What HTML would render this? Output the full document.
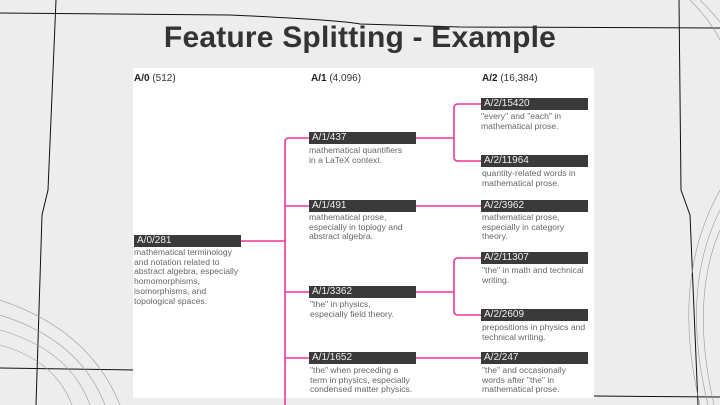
<!DOCTYPE html>
<html><head><meta charset="utf-8"><style>
body{margin:0;width:720px;height:405px;overflow:hidden;background:#ededed;font-family:"Liberation Sans",sans-serif;position:relative}
.t{position:absolute;left:0;width:720px;top:21px;text-align:center;font-size:30px;font-weight:bold;color:#333;letter-spacing:0.2px}
.panel{position:absolute;left:133px;top:68px;width:461px;height:330px;background:#fff}
.h{position:absolute;font-size:10px;color:#333}
.h b{color:#222}
.b{position:absolute;width:107px;height:12px;background:#3a3a3a;color:#eee;font-size:10px;line-height:12px;padding-left:3px;box-sizing:border-box}
.d{position:absolute;font-size:8.6px;line-height:9.7px;color:#666;width:130px;white-space:nowrap}
svg{position:absolute;left:0;top:0}
</style></head><body>
<svg width="720" height="405">
<g stroke="#111" fill="none" stroke-width="1">
<path d="M0 13 L230 15 Q340 20 360 24 L460 27 L720 28"/>
<path d="M56 0 L48 190 L42 215 L36 405"/>
<path d="M679 0 L681 190 L690 215 L698 405"/>
<path d="M0 368 L133 370"/>
<path d="M594 396 L720 397"/>
</g>
<g stroke="#999" fill="none" stroke-width="0.6">
<path d="M0 300 Q90 330 120 405"/><path d="M0 315 Q80 340 105 405"/><path d="M0 330 Q70 350 90 405"/><path d="M0 345 Q55 360 72 405"/>
<path d="M720 190 Q670 280 700 405"/><path d="M720 210 Q680 290 708 405"/><path d="M720 230 Q690 300 714 405"/>
<path d="M690 0 Q710 20 720 40"/><path d="M700 0 Q712 12 720 22"/>
</g>
</svg>
<div class="t">Feature Splitting - Example</div>
<div class="panel"></div>
<svg width="720" height="405">
<g stroke="#f0359a" stroke-width="1.6" fill="none">
<path d="M240 241 L285 241"/>
<path d="M309 138 L289 138 Q285 138 285 142 L285 405"/>
<path d="M285 206 L309 206"/><path d="M285 292 L309 292"/><path d="M285 358 L309 358"/>
<path d="M416 138 L454 138"/><path d="M481 104 L458 104 Q454 104 454 108 L454 157 Q454 161 458 161 L481 161"/>
<path d="M416 206 L481 206"/>
<path d="M416 292 L454 292"/><path d="M481 258 L458 258 Q454 258 454 262 L454 311 Q454 315 458 315 L481 315"/>
<path d="M416 358 L481 358"/>
</g></svg>
<div class="h" style="left:134px;top:73px"><b>A/0</b> (512)</div>
<div class="h" style="left:311px;top:73px"><b>A/1</b> (4,096)</div>
<div class="h" style="left:482px;top:73px"><b>A/2</b> (16,384)</div>

<div class="b" style="left:134px;top:235px">A/0/281</div>
<div class="d" style="left:134px;top:248px">mathematical terminology<br>and notation related to<br>abstract algebra, especially<br>homomorphisms,<br>isomorphisms, and<br>topological spaces.</div>

<div class="b" style="left:309px;top:132px">A/1/437</div>
<div class="d" style="left:309px;top:146px">mathematical quantifiers<br>in a LaTeX context.</div>
<div class="b" style="left:309px;top:200px">A/1/491</div>
<div class="d" style="left:309px;top:213px">mathematical prose,<br>especially in toplogy and<br>abstract algebra.</div>
<div class="b" style="left:309px;top:286px">A/1/3362</div>
<div class="d" style="left:310px;top:300px">"the" in physics,<br>especially field theory.</div>
<div class="b" style="left:309px;top:352px">A/1/1652</div>
<div class="d" style="left:310px;top:366px">"the" when preceding a<br>term in physics, especially<br>condensed matter physics.</div>

<div class="b" style="left:481px;top:98px">A/2/15420</div>
<div class="d" style="left:481px;top:112px">"every" and "each" in<br>mathematical prose.</div>
<div class="b" style="left:481px;top:155px">A/2/11964</div>
<div class="d" style="left:482px;top:169px">quantity-related words in<br>mathematical prose.</div>
<div class="b" style="left:481px;top:200px">A/2/3962</div>
<div class="d" style="left:482px;top:213px">mathematical prose,<br>especially in category<br>theory.</div>
<div class="b" style="left:481px;top:252px">A/2/11307</div>
<div class="d" style="left:482px;top:266px">"the" in math and technical<br>writing.</div>
<div class="b" style="left:481px;top:309px">A/2/2609</div>
<div class="d" style="left:482px;top:323px">prepositions in physics and<br>technical writing.</div>
<div class="b" style="left:481px;top:352px">A/2/247</div>
<div class="d" style="left:482px;top:366px">"the" and occasionally<br>words after "the" in<br>mathematical prose.</div>
</body></html>
